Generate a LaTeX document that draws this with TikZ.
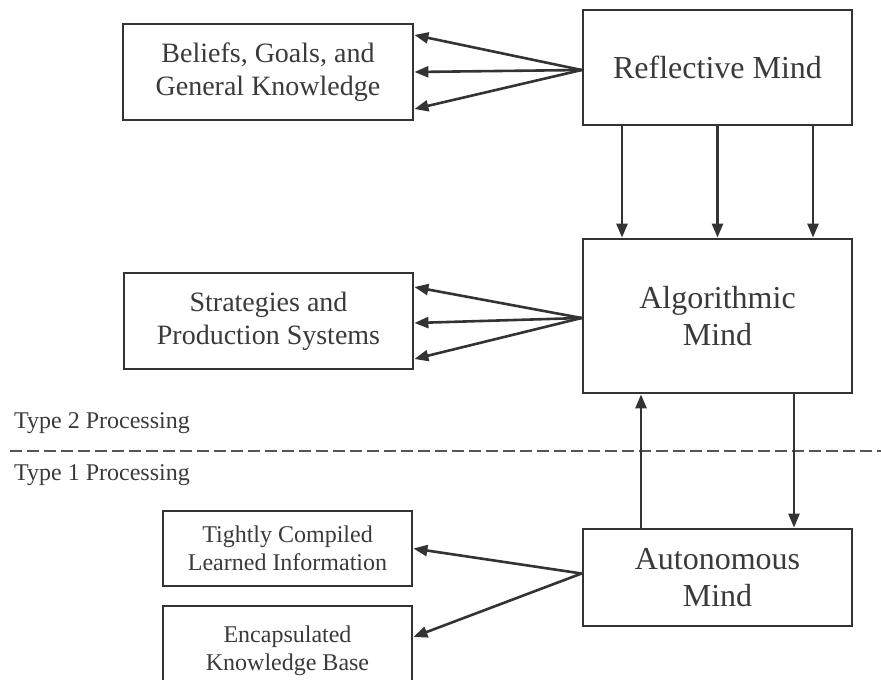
\documentclass[tikz,border=0pt]{standalone}
\usepackage{fontspec}
\setmainfont{Liberation Serif}
\usetikzlibrary{arrows.meta}
\definecolor{ink}{HTML}{333333}
\definecolor{txt}{HTML}{3A3A3A}
\definecolor{dashgray}{HTML}{555555}
\tikzset{
  box/.style={draw=ink, line width=2.8pt, fill=white, inner sep=0pt,
    align=center, text=txt},
  bigtext/.style={font=\fontsize{32}{37}\selectfont},
  midtext/.style={font=\fontsize{28}{33}\selectfont},
  smalltext/.style={font=\fontsize{24}{28.5}\selectfont},
  arr/.style={draw=ink, line width=2.6pt,
    -{Triangle[length=14pt,width=11pt]}},
  sep/.style={draw=dashgray, line width=2pt, dash pattern=on 12pt off 5pt},
  lbl/.style={text=txt, inner sep=0pt, font=\fontsize{24}{28}\selectfont}
}
\begin{document}
\begin{tikzpicture}[x=1pt, y=-1pt]
  \useasboundingbox (0,0) rectangle (881,680);
  \clip (0,0) rectangle (881,680);

  % boundary between the two processing types
  \coordinate (sepL) at (10,451);
  \coordinate (sepR) at (881,451);
  \draw[sep] (sepL) -- (sepR);

  % right column: the three minds
  \node[box, bigtext, minimum width=269pt, minimum height=115pt]
    (ref) at (717.5,67.5) {Reflective Mind};
  \node[box, bigtext, minimum width=269pt, minimum height=154pt]
    (alg) at (717.5,316) {Algorithmic\\Mind};
  \node[box, bigtext, minimum width=269pt, minimum height=97pt]
    (aut) at (717.5,577.5) {Autonomous\\Mind};

  % left column: knowledge structures
  \node[box, midtext, minimum width=290pt, minimum height=96pt]
    (bel) at (268,72) {Beliefs, Goals, and\\General Knowledge};
  \node[box, midtext, minimum width=289pt, minimum height=96pt]
    (str) at (268.5,321) {Strategies and\\Production Systems};
  \node[box, smalltext, minimum width=249pt, minimum height=75pt]
    (tig) at (287.5,548.5) {Tightly Compiled\\Learned Information};
  \node[box, smalltext, minimum width=249pt, minimum height=90pt]
    (enc) at (287.5,651) {Encapsulated\\Knowledge Base};

  % fans from each mind to its knowledge store
  \foreach \dy in {37,0,-37}
    \draw[arr] ([yshift=-2.5pt]ref.west) -- ([yshift=\dy pt]bel.east);
  \foreach \dy in {36,0,-36}
    \draw[arr] ([yshift=-2pt]alg.west) -- ([yshift=\dy pt-2pt]str.east);
  \draw[arr] ([yshift=4pt]aut.west) -- (tig.east);
  \draw[arr] ([yshift=4pt]aut.west) -- ([yshift=14pt]enc.east);

  % reflective mind down to algorithmic mind
  \foreach \dx in {-95.5,0,95.5}
    \draw[arr] ([xshift=\dx pt]ref.south) -- ([xshift=\dx pt]alg.north);

  % exchange between algorithmic and autonomous mind
  \draw[arr] ([xshift=-76.5pt]aut.north) -- ([xshift=-76.5pt]alg.south);
  \draw[arr] ([xshift=76.5pt]alg.south) -- ([xshift=76.5pt]aut.north);

  \node[lbl, anchor=base west] (t2) at (14,428) {Type 2 Processing};
  \node[lbl, anchor=base west] (t1) at (14,480) {Type 1 Processing};
\end{tikzpicture}
\end{document}
